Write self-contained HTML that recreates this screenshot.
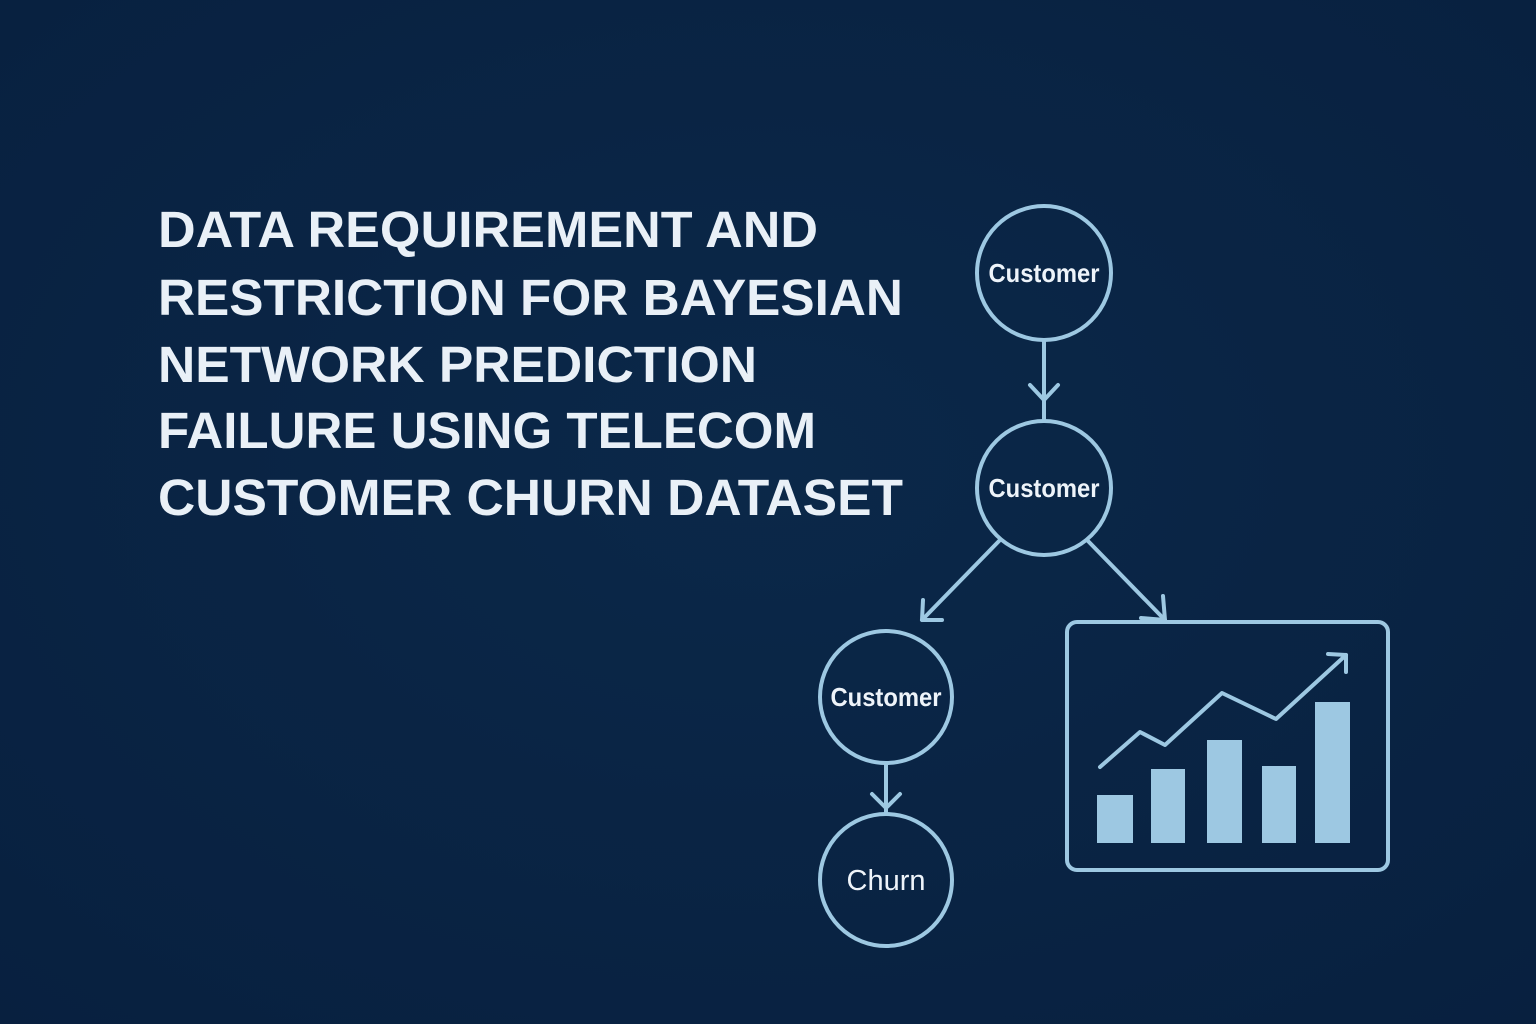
<!DOCTYPE html>
<html><head><meta charset="utf-8"><style>
html,body{margin:0;padding:0;background:#0a2345;}
svg{display:block}
</style></head><body>
<svg width="1536" height="1024" viewBox="0 0 1536 1024" xmlns="http://www.w3.org/2000/svg">
<defs>
<radialGradient id="bg" cx="50%" cy="45%" r="75%">
<stop offset="0" stop-color="#0b2849"/><stop offset="1" stop-color="#08203f"/>
</radialGradient>
</defs>
<rect width="1536" height="1024" fill="url(#bg)"/>
<g font-family="Liberation Sans, sans-serif" font-weight="bold" font-size="51" fill="#e9f0f7">
<text x="158" y="247" textLength="660" lengthAdjust="spacingAndGlyphs">DATA REQUIREMENT AND</text>
<text x="158" y="315" textLength="745" lengthAdjust="spacingAndGlyphs">RESTRICTION FOR BAYESIAN</text>
<text x="158" y="382" textLength="599" lengthAdjust="spacingAndGlyphs">NETWORK PREDICTION</text>
<text x="158" y="448" textLength="658" lengthAdjust="spacingAndGlyphs">FAILURE USING TELECOM</text>
<text x="158" y="515" textLength="745" lengthAdjust="spacingAndGlyphs">CUSTOMER CHURN DATASET</text>
</g>
<g fill="none" stroke="#9dc8e2" stroke-width="4" stroke-linecap="round" stroke-linejoin="round">
<circle cx="1044" cy="273" r="67"/>
<circle cx="1044" cy="488" r="67"/>
<circle cx="886" cy="697" r="66"/>
<circle cx="886" cy="880" r="66"/>
<line x1="1044" y1="340" x2="1044" y2="420"/>
<polyline points="1030,385 1044,400 1058,385"/>
<line x1="1000" y1="540" x2="922" y2="620"/>
<polyline points="923,600 922,620 942,620"/>
<line x1="1088" y1="541" x2="1165" y2="620"/>
<polyline points="1163,596 1165,620 1141,618"/>
<line x1="886" y1="763" x2="886" y2="812"/>
<polyline points="872,794 886,808 900,794"/>
<rect x="1067" y="622" width="321" height="248" rx="10"/>
<polyline points="1100,767 1140,732 1165,745 1222,693 1276,719 1346,655"/>
<polyline points="1328,654 1346,655 1346,672"/>
</g>
<g fill="#9dc8e2">
<rect x="1097" y="795" width="36" height="48"/>
<rect x="1151" y="769" width="34" height="74"/>
<rect x="1207" y="740" width="35" height="103"/>
<rect x="1262" y="766" width="34" height="77"/>
<rect x="1315" y="702" width="35" height="141"/>
</g>
<g font-family="Liberation Sans, sans-serif" font-size="26" font-weight="bold" fill="#eef4fa" text-anchor="middle">
<text x="1044" y="282" textLength="111" lengthAdjust="spacingAndGlyphs">Customer</text>
<text x="1044" y="497" textLength="111" lengthAdjust="spacingAndGlyphs">Customer</text>
<text x="886" y="706" textLength="111" lengthAdjust="spacingAndGlyphs">Customer</text>
<text x="886" y="890" font-size="29" font-weight="normal" textLength="79" lengthAdjust="spacingAndGlyphs">Churn</text>
</g>
</svg>
</body></html>
